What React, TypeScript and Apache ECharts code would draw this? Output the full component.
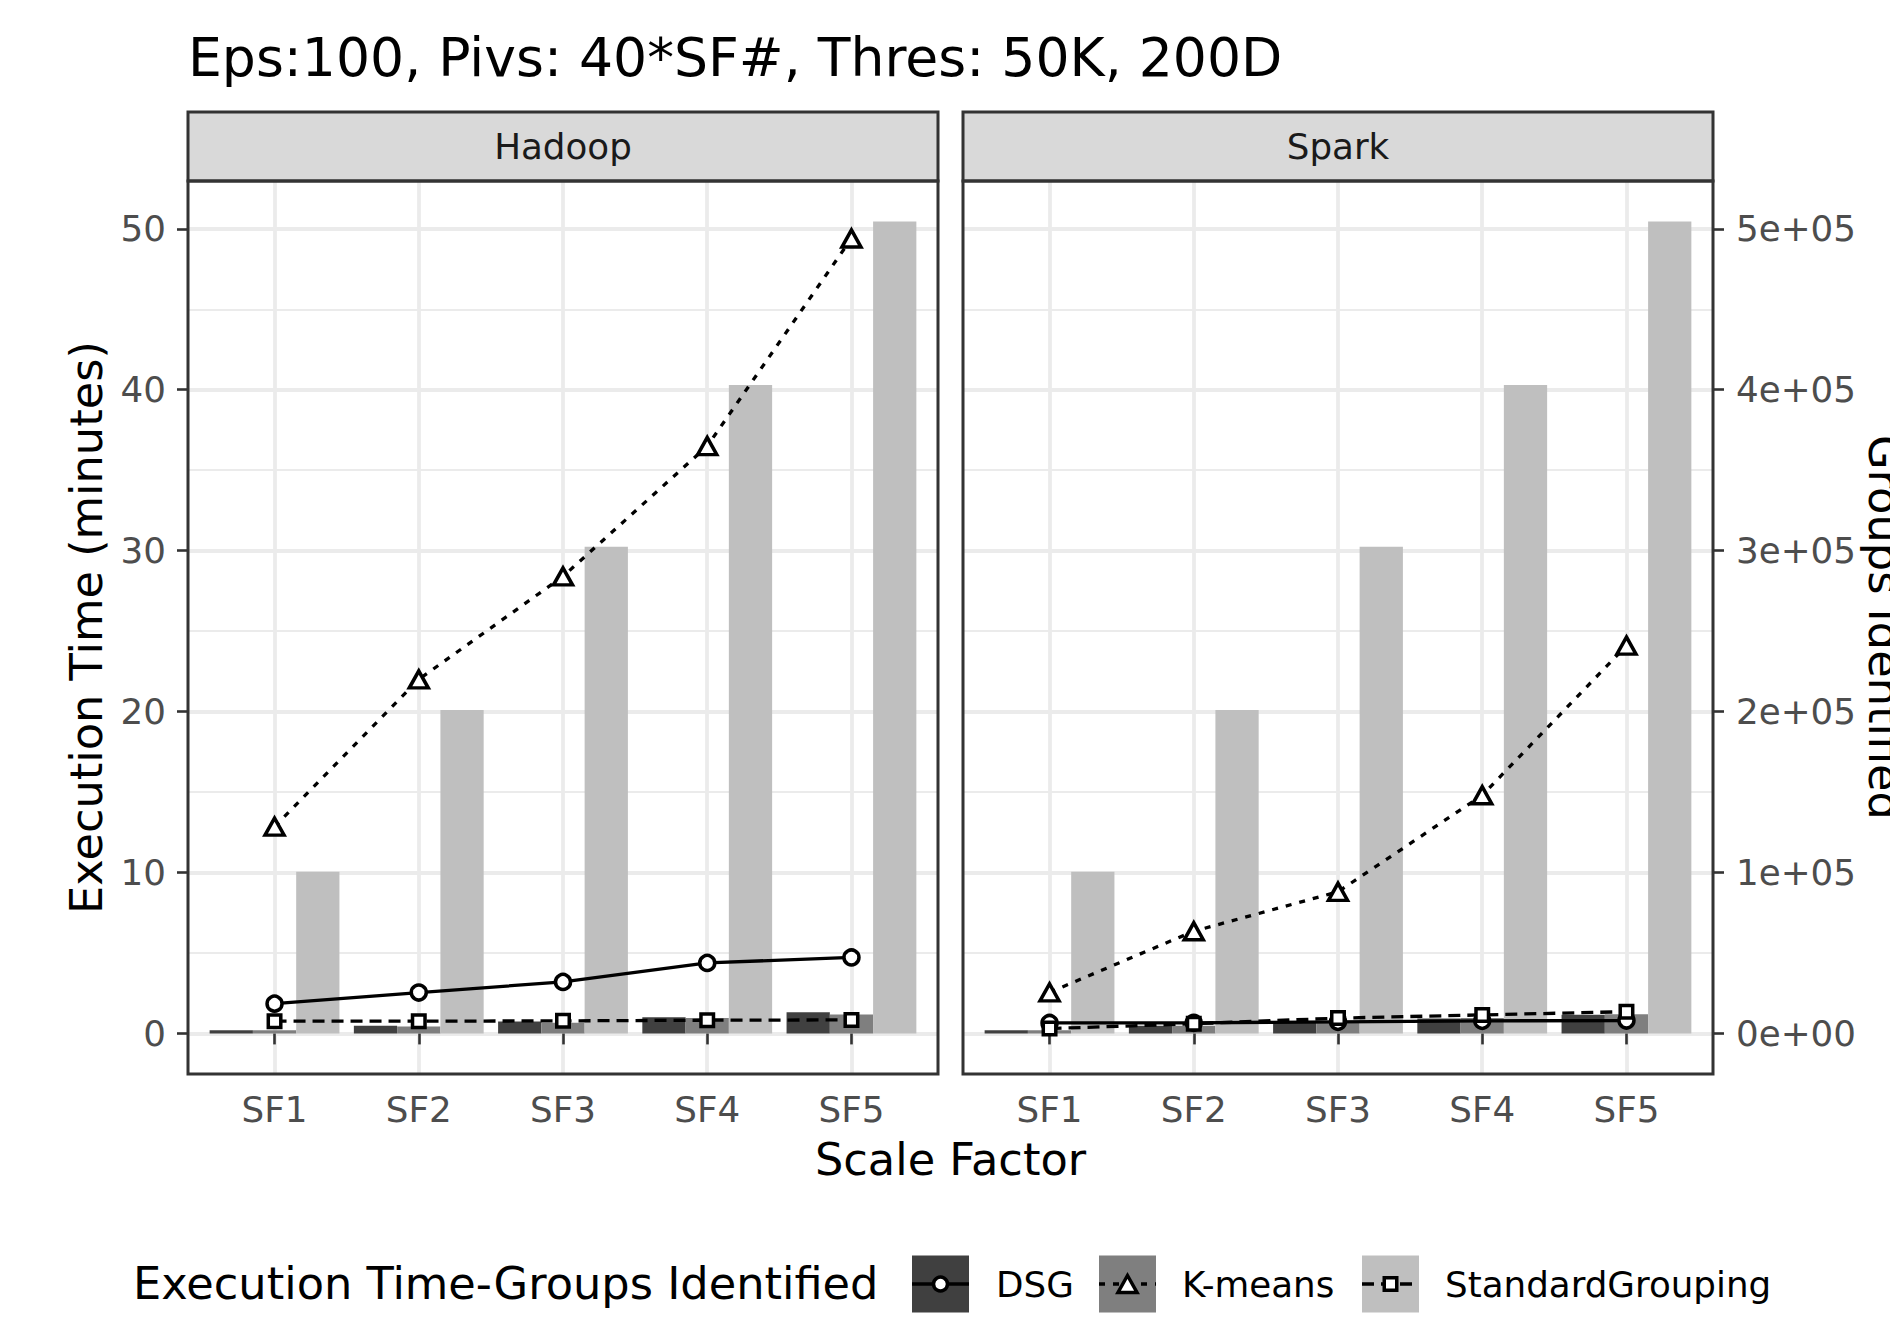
import React, { useEffect, useRef } from 'react';
import * as echarts from 'echarts';

// ---------- data ----------
const categories = ['SF1', 'SF2', 'SF3', 'SF4', 'SF5'];
const facets = ['Hadoop', 'Spark'];
const methods = ['DSG', 'K-means', 'StandardGrouping'];

// Execution time (minutes)
const hadoopTimeDSG = [1.85, 2.54, 3.2, 4.38, 4.72];
const hadoopTimeKmeans = [12.85, 22.0, 28.4, 36.5, 49.4];
const hadoopTimeStd = [0.76, 0.76, 0.78, 0.82, 0.84];
const sparkTimeDSG = [0.65, 0.66, 0.72, 0.78, 0.8];
const sparkTimeKmeans = [2.55, 6.35, 8.8, 14.8, 24.1];
const sparkTimeStd = [0.3, 0.6, 0.95, 1.15, 1.35];

// Groups identified
const hadoopGroupsDSG = [2000, 4800, 7400, 10100, 13200];
const hadoopGroupsKmeans = [2000, 4300, 6600, 9500, 11700];
const hadoopGroupsStd = [100500, 201000, 302500, 403000, 504500];
const sparkGroupsDSG = [2000, 4800, 6800, 9300, 11600];
const sparkGroupsKmeans = [2000, 4800, 6800, 9500, 11900];
const sparkGroupsStd = [100500, 201000, 302500, 403000, 504500];

const timeTicks = [0, 10, 20, 30, 40, 50];
const timeMinorTicks = [5, 15, 25, 35, 45];
const groupTicks = [0, 100000, 200000, 300000, 400000, 500000];
const SEC_SCALE = 10000; // groups = time * 10000

const timeData = [
  [hadoopTimeDSG, hadoopTimeKmeans, hadoopTimeStd],
  [sparkTimeDSG, sparkTimeKmeans, sparkTimeStd],
];
const groupData = [
  [hadoopGroupsDSG, hadoopGroupsKmeans, hadoopGroupsStd],
  [sparkGroupsDSG, sparkGroupsKmeans, sparkGroupsStd],
];

// ---------- styles ----------
const FONT = 'DejaVu Sans';
const barColors = ['#404040', '#7f7f7f', '#bfbfbf'];
const lineDash: any[] = ['solid', [6, 8], [12, 7]];
const symbols = ['circle', 'triangle', 'rect'];
const symbolSizes: any[] = [15, [19, 17], 12.5];
const LINE_W = 3.3;
const MARK_BW = 3.5;

const PANEL_LEFTS = [188, 963];
const PANEL_W = 750;
const PANEL_TOP = 181;
const PANEL_BOTTOM = 1074;
const STRIP_TOP = 112;
const X_MIN = 0.4;
const X_MAX = categories.length + 0.6;
const BAR_W = (0.3 * PANEL_W) / (X_MAX - X_MIN);

function sci(v: number): string {
  const [m, e] = v.toExponential(0).split('e');
  const sign = e[0];
  const digits = e.slice(1).padStart(2, '0');
  return `${m}e${sign}${digits}`;
}

export default function App() {
  const ref = useRef<HTMLDivElement>(null);
  useEffect(() => {
    document.body.style.margin = '0';
    const chart = echarts.init(ref.current!, null, { renderer: 'svg' });

    const allVals: number[] = [];
    timeData.forEach((f) => f.forEach((s) => allVals.push(...s)));
    groupData.forEach((f) => f.forEach((s) => s.forEach((v) => allVals.push(v / SEC_SCALE))));
    const dMax = Math.max(...allVals);
    const dMin = Math.min(0, ...allVals);
    const pad = 0.05 * (dMax - dMin);
    const tMin = dMin - pad;
    const tMax = dMax + pad;

    const xTickVals = categories.map((_, i) => i + 1);

    const grids = facets.map((_, f) => ({
      left: PANEL_LEFTS[f],
      top: PANEL_TOP,
      width: PANEL_W,
      height: PANEL_BOTTOM - PANEL_TOP,
      containLabel: false,
      outerBoundsMode: 'none',
    }));

    const axisLabelBase = { fontFamily: FONT, fontSize: 35.7, color: '#4d4d4d' };
    const tickStyle = { color: '#333333', width: 2.6 };

    const xAxes = facets.map((_, f) => ({
      type: 'value',
      gridIndex: f,
      min: X_MIN,
      max: X_MAX,
      axisLine: { show: false },
      axisTick: { show: true, length: 11, lineStyle: tickStyle, customValues: xTickVals },
      axisLabel: {
        ...axisLabelBase,
        margin: 17,
        customValues: xTickVals,
        formatter: (v: number) => categories[Math.round(v) - 1] ?? '',
      },
      splitLine: { show: true, lineStyle: { color: '#ebebeb', width: 3.8 } },
    }));

    const yAxes: any[] = [];
    facets.forEach((_, f) => {
      yAxes.push({
        type: 'value',
        gridIndex: f,
        position: 'left',
        min: tMin,
        max: tMax,
        axisLine: { show: false },
        axisTick: { show: f === 0, length: 11, lineStyle: tickStyle, customValues: timeTicks },
        axisLabel: { ...axisLabelBase, show: f === 0, margin: 22, customValues: timeTicks },
        splitLine: { show: true, lineStyle: { color: '#ebebeb', width: 3.8 } },
      });
      yAxes.push({
        type: 'value',
        gridIndex: f,
        position: 'right',
        min: tMin * SEC_SCALE,
        max: tMax * SEC_SCALE,
        axisLine: { show: false },
        axisTick: { show: f === 1, length: 11, lineStyle: tickStyle, customValues: groupTicks },
        axisLabel: {
          ...axisLabelBase,
          show: f === 1,
          margin: 23,
          customValues: groupTicks,
          formatter: (v: number) => sci(v),
        },
        splitLine: { show: false },
      });
      yAxes.push({
        type: 'value',
        gridIndex: f,
        position: 'left',
        min: tMin,
        max: tMax,
        axisLine: { show: false },
        axisTick: { show: false, customValues: timeMinorTicks },
        axisLabel: { show: false, customValues: timeMinorTicks },
        splitLine: { show: true, lineStyle: { color: '#ebebeb', width: 2.2 } },
      });
    });

    const series: any[] = [];
    facets.forEach((_, f) => {
      methods.forEach((m, k) => {
        series.push({
          type: 'bar',
          name: m,
          xAxisIndex: f,
          yAxisIndex: f * 3 + 1,
          data: categories.map((_c, i) => [i + 1, groupData[f][k][i]]),
          barWidth: BAR_W,
          barGap: '0%',
          itemStyle: { color: barColors[k], opacity: 1 },
          z: 2,
          silent: true,
        });
      });
      methods.forEach((m, k) => {
        series.push({
          type: 'line',
          name: m + '-line',
          xAxisIndex: f,
          yAxisIndex: f * 3,
          data: categories.map((_c, i) => [i + 1, timeData[f][k][i]]),
          showSymbol: false,
          symbol: 'none',
          lineStyle: { color: '#000', width: LINE_W, type: lineDash[k], opacity: 1 },
          z: 3,
          silent: true,
        });
      });
      methods.forEach((m, k) => {
        series.push({
          type: 'scatter',
          name: m + '-pt',
          xAxisIndex: f,
          yAxisIndex: f * 3,
          data: categories.map((_c, i) => [i + 1, timeData[f][k][i]]),
          symbol: symbols[k],
          symbolSize: symbolSizes[k],
          itemStyle: { color: '#ffffff', borderColor: '#000000', borderWidth: MARK_BW, opacity: 1 },
          z: 4,
          silent: true,
        });
      });
    });

    const graphics: any[] = [];
    graphics.push({
      type: 'text',
      left: 188,
      top: 30,
      style: { text: 'Eps:100, Pivs: 40*SF#, Thres: 50K, 200D', font: `53.6px '${FONT}'`, fill: '#000' },
    });
    facets.forEach((name, f) => {
      const x0 = PANEL_LEFTS[f];
      graphics.push({
        type: 'rect',
        shape: { x: x0, y: STRIP_TOP, width: PANEL_W, height: PANEL_TOP - STRIP_TOP },
        style: { fill: '#d9d9d9', stroke: '#333333', lineWidth: 3 },
        z: 50,
      });
      graphics.push({
        type: 'text',
        x: x0 + PANEL_W / 2,
        y: (STRIP_TOP + PANEL_TOP) / 2,
        style: {
          text: name,
          font: `35.7px '${FONT}'`,
          fill: '#1a1a1a',
          textAlign: 'center',
          textVerticalAlign: 'middle',
        },
        z: 51,
      });
      graphics.push({
        type: 'rect',
        shape: { x: x0, y: PANEL_TOP, width: PANEL_W, height: PANEL_BOTTOM - PANEL_TOP },
        style: { fill: 'none', stroke: '#333333', lineWidth: 3 },
        z: 100,
      });
    });
    graphics.push({
      type: 'text',
      x: (PANEL_LEFTS[0] + PANEL_LEFTS[1] + PANEL_W) / 2,
      y: 1160,
      style: {
        text: 'Scale Factor',
        font: `44.7px '${FONT}'`,
        fill: '#000',
        textAlign: 'center',
        textVerticalAlign: 'middle',
      },
    });
    graphics.push({
      type: 'text',
      x: 87,
      y: (PANEL_TOP + PANEL_BOTTOM) / 2,
      rotation: Math.PI / 2,
      style: {
        text: 'Execution Time (minutes)',
        font: `44.7px '${FONT}'`,
        fill: '#000',
        textAlign: 'center',
        textVerticalAlign: 'middle',
      },
    });
    graphics.push({
      type: 'text',
      x: 1884,
      y: (PANEL_TOP + PANEL_BOTTOM) / 2,
      rotation: -Math.PI / 2,
      style: {
        text: 'Groups Identified',
        font: `44.7px '${FONT}'`,
        fill: '#000',
        textAlign: 'center',
        textVerticalAlign: 'middle',
      },
    });
    const LEG_CY = 1284;
    const KEY = 57;
    graphics.push({
      type: 'text',
      x: 133,
      y: LEG_CY,
      style: {
        text: 'Execution Time-Groups Identified',
        font: `44.7px '${FONT}'`,
        fill: '#000',
        textVerticalAlign: 'middle',
      },
    });
    const keyXs = [912, 1099, 1362];
    const labelXs = [996, 1182, 1445];
    methods.forEach((m, k) => {
      const kx = keyXs[k];
      graphics.push({
        type: 'rect',
        shape: { x: kx, y: LEG_CY - KEY / 2, width: KEY, height: KEY },
        style: { fill: barColors[k] },
      });
      graphics.push({
        type: 'line',
        shape: { x1: kx, y1: LEG_CY, x2: kx + KEY, y2: LEG_CY },
        style: {
          stroke: '#000',
          lineWidth: LINE_W,
          lineDash: Array.isArray(lineDash[k]) ? lineDash[k] : null,
        },
      });
      const cx = kx + KEY / 2;
      if (k === 0) {
        graphics.push({
          type: 'circle',
          shape: { cx, cy: LEG_CY, r: 7 },
          style: { fill: '#fff', stroke: '#000', lineWidth: MARK_BW },
        });
      } else if (k === 1) {
        graphics.push({
          type: 'polygon',
          shape: {
            points: [
              [cx, LEG_CY - 8.5],
              [cx + 9.5, LEG_CY + 8.5],
              [cx - 9.5, LEG_CY + 8.5],
            ],
          },
          style: { fill: '#fff', stroke: '#000', lineWidth: MARK_BW },
        });
      } else {
        graphics.push({
          type: 'rect',
          shape: { x: cx - 6.25, y: LEG_CY - 6.25, width: 12.5, height: 12.5 },
          style: { fill: '#fff', stroke: '#000', lineWidth: MARK_BW },
        });
      }
      graphics.push({
        type: 'text',
        x: labelXs[k],
        y: LEG_CY,
        style: { text: m, font: `35.7px '${FONT}'`, fill: '#000', textVerticalAlign: 'middle' },
      });
    });

    chart.setOption({
      animation: false,
      backgroundColor: '#ffffff',
      grid: grids,
      xAxis: xAxes,
      yAxis: yAxes,
      series,
      graphic: graphics,
    });
    return () => chart.dispose();
  }, []);
  return <div ref={ref} style={{ width: 1890, height: 1322 }} />;
}
